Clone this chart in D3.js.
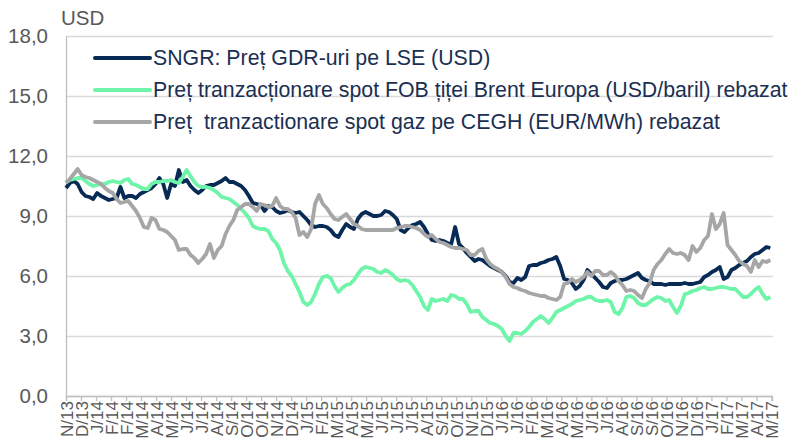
<!DOCTYPE html>
<html>
<head>
<meta charset="utf-8">
<script src="https://cdn.jsdelivr.net/npm/d3@7"></script>
<style>
  html, body { margin: 0; padding: 0; background: #fff; }
  svg { display: block; font-family: "Liberation Sans", Arial, sans-serif; }
</style>
</head>
<body>
<svg id="chart" width="791" height="445"></svg>
<script>
// Weekly observations, starting 12 Nov 2013 (one value per week)
const startDate = "2013-11-12";
const stepDays = 7;

// SNGR: GDR price on LSE (USD)
const sngr = [
  10.4,10.65,10.75,10.6,10.2,10.0,9.95,9.85,10.15,10.0,9.9,9.8,9.85,9.9,10.45,9.9,10.0,10.0,9.9,10.1,
  10.2,10.3,10.4,10.6,10.9,10.6,9.9,10.6,10.5,11.3,10.7,10.8,10.5,10.3,10.15,10.3,10.5,10.55,10.55,10.65,
  10.75,10.9,10.7,10.7,10.6,10.5,10.3,10.0,9.65,9.6,9.55,9.25,9.5,9.45,9.25,9.15,9.2,9.3,9.2,9.15,
  9.2,9.0,8.8,8.55,8.45,8.5,8.5,8.45,8.3,8.05,7.95,8.3,8.6,8.45,8.35,8.85,9.1,9.2,9.1,9.0,
  9.0,9.05,9.25,9.2,9.05,8.85,8.3,8.2,8.4,8.55,8.6,8.7,8.45,8.1,7.8,7.75,7.8,7.75,7.65,7.6,
  8.45,7.6,7.4,7.15,6.95,6.75,6.85,6.8,6.65,6.5,6.4,6.3,6.2,6.0,5.7,5.65,5.9,5.8,5.95,6.5,
  6.55,6.55,6.65,6.7,6.8,6.85,6.95,6.5,5.85,5.8,5.65,5.35,5.5,5.8,6.3,6.1,5.9,5.7,5.45,5.4,
  5.65,5.75,5.8,5.8,5.85,5.95,6.05,6.15,5.9,5.8,5.75,5.6,5.6,5.6,5.55,5.6,5.6,5.6,5.6,5.65,
  5.6,5.6,5.65,5.7,5.95,6.05,6.2,6.3,6.45,5.85,5.95,6.3,6.4,6.55,6.65,6.75,6.95,7.1,7.15,7.3,
  7.45,7.4
];

// Brent Europe FOB spot price (USD/barrel), rebased
const brent = [
  10.7,10.8,10.85,10.9,10.9,10.75,10.6,10.5,10.55,10.6,10.6,10.7,10.75,10.7,10.65,10.8,10.85,10.6,10.55,10.45,
  10.35,10.35,10.6,10.7,10.7,10.75,10.75,10.8,10.7,10.65,10.95,11.3,11.0,10.7,10.5,10.45,10.45,10.4,10.3,10.15,
  9.95,9.9,9.85,9.7,9.55,9.35,9.15,8.9,8.5,8.4,8.35,8.35,8.25,7.85,7.65,7.3,6.65,6.25,6.0,5.6,
  5.2,4.7,4.55,4.7,5.1,5.6,5.95,6.0,5.9,5.5,5.2,5.4,5.55,5.6,5.8,6.1,6.35,6.45,6.4,6.35,
  6.2,6.15,6.3,6.2,6.05,5.85,5.75,5.8,5.75,5.55,5.25,4.95,4.5,4.3,4.85,4.75,4.8,4.85,4.75,5.05,
  5.0,4.85,4.85,4.6,4.2,4.25,4.25,3.95,3.8,3.65,3.6,3.5,3.35,3.0,2.75,3.15,3.15,3.1,3.25,3.45,
  3.7,3.85,4.0,3.85,3.65,3.9,4.2,4.3,4.4,4.5,4.6,4.75,4.8,4.85,4.95,4.95,4.8,4.75,4.75,4.8,
  4.7,4.2,4.1,4.4,4.95,5.0,4.9,4.65,4.55,4.55,4.7,4.85,4.95,4.9,4.75,4.8,4.45,4.15,4.5,5.1,
  5.15,5.25,5.3,5.4,5.45,5.35,5.35,5.4,5.45,5.45,5.4,5.35,5.35,5.15,4.95,4.95,5.1,5.3,5.45,5.1,
  4.85,4.95
];

// CEGH spot gas price (EUR/MWh), rebased
const gas = [
  10.65,10.85,11.1,11.35,11.05,10.95,10.9,10.8,10.7,10.6,10.4,10.25,10.15,9.85,9.65,9.7,9.75,9.5,9.25,8.9,
  8.45,8.4,8.9,8.8,8.35,8.3,8.2,8.0,7.8,7.3,7.35,7.35,7.05,6.9,6.65,6.85,7.1,7.6,6.9,7.3,
  7.5,8.1,8.5,8.8,9.3,9.45,9.6,9.6,9.45,9.25,9.6,9.55,9.45,9.5,9.9,9.5,9.35,9.35,9.2,8.9,
  8.05,8.2,7.95,8.35,9.6,10.05,9.6,9.4,9.1,8.85,8.8,8.95,9.1,8.85,8.6,8.5,8.35,8.3,8.3,8.3,
  8.3,8.3,8.3,8.3,8.3,8.4,8.45,8.5,8.5,8.45,8.4,8.3,8.1,7.95,8.05,7.85,7.7,7.65,7.55,7.45,
  7.4,7.4,7.35,7.3,7.05,7.05,7.25,7.35,6.85,6.6,6.45,6.35,6.2,5.95,5.6,5.45,5.4,5.3,5.25,5.15,
  5.1,5.05,5.0,5.0,4.9,4.85,4.8,4.95,5.6,5.65,5.85,5.7,5.8,5.95,6.2,6.0,6.25,6.25,6.05,6.05,
  6.2,6.05,5.75,5.55,5.25,5.3,5.25,5.05,4.9,5.35,5.65,6.3,6.6,6.8,7.1,7.35,7.15,7.1,7.15,7.05,
  6.8,7.5,7.2,7.4,7.8,8.0,9.1,8.35,8.6,9.15,7.55,7.3,7.05,6.75,6.6,6.5,6.2,6.8,6.45,6.75,
  6.7,6.8
];

// Axis ticks: one every 27 days from the start date
const tickStepDays = 27;
const tickLabels = [
  "N/13","D/13","J/14","F/14","F/14","M/14","A/14","M/14","J/14","J/14","A/14","S/14",
  "O/14","O/14","N/14","D/14","J/15","F/15","M/15","A/15","M/15","J/15","J/15","J/15",
  "A/15","S/15","O/15","N/15","D/15","J/16","J/16","F/16","M/16","A/16","M/16","J/16",
  "J/16","A/16","S/16","S/16","O/16","N/16","D/16","J/17","F/17","M/17","A/17","M/17"
];
const yTicks = [0, 3, 6, 9, 12, 15, 18];

const seriesNames = [
  "SNGR: Preț GDR-uri pe LSE (USD)",
  "Preț tranzacționare spot FOB țiței Brent Europa (USD/baril) rebazat",
  "Preț  tranzactionare spot gaz pe CEGH (EUR/MWh) rebazat"
];
const seriesColors = ["#082b55", "#6ef5a9", "#a6a6a6"];

const svg = d3.select("#chart");
const plotLeft = 66, plotRight = 772, plotTop = 36, plotBottom = 396;

const t0 = d3.timeParse("%Y-%m-%d")(startDate);
const tEnd = d3.timeDay.offset(t0, 1270);
const x = d3.scaleTime().domain([t0, tEnd]).range([plotLeft, plotRight]);
const y = d3.scaleLinear().domain([0, 18]).range([plotBottom, plotTop]);

const dateAt = i => d3.timeDay.offset(t0, i * stepDays);
const tickDates = tickLabels.map((_, k) => d3.timeDay.offset(t0, k * tickStepDays));

// Horizontal gridlines
svg.append("g")
  .attr("transform", `translate(${plotLeft},0)`)
  .call(d3.axisLeft(y).tickValues(yTicks).tickSize(-(plotRight - plotLeft + 1)).tickFormat(""))
  .call(g => g.select(".domain").remove())
  .call(g => g.selectAll("line").attr("stroke", "#d9d9d9").attr("stroke-width", 1.3));

// Y axis labels
const fmt = d3.format(".1f");
svg.append("g")
  .attr("transform", `translate(${plotLeft},0)`)
  .call(d3.axisLeft(y).tickValues(yTicks).tickSize(0).tickPadding(18)
    .tickFormat(d => fmt(d).replace(".", ",")))
  .call(g => g.select(".domain").attr("stroke", "#bfbfbf").attr("stroke-width", 1.3))
  .call(g => g.selectAll("text").attr("fill", "#595959")
    .style("font-size", "20.5px").style("font-family", "'Liberation Sans', Arial, sans-serif"));

// X axis
svg.append("g")
  .attr("transform", `translate(0,${plotBottom})`)
  .call(d3.axisBottom(x).tickValues(tickDates).tickSize(5).tickFormat((d, i) => tickLabels[i]))
  .call(g => g.select(".domain").attr("stroke", "#bfbfbf").attr("stroke-width", 1.3))
  .call(g => g.selectAll("line").attr("stroke", "#bfbfbf").attr("stroke-width", 1.3))
  .call(g => g.selectAll("text")
    .attr("fill", "#595959")
    .attr("transform", "rotate(-90)")
    .attr("x", -5).attr("y", 0).attr("dy", "0.36em")
    .style("text-anchor", "end")
    .style("font-size", "17px")
    .style("font-family", "'Liberation Sans', Arial, sans-serif"));

// Unit label
svg.append("text")
  .attr("x", 61).attr("y", 25)
  .attr("fill", "#595959")
  .style("font-size", "20.5px")
  .text("USD");

// Lines
const line = d3.line()
  .x((d, i) => x(dateAt(i)))
  .y(d => y(d));

[sngr, brent, gas].forEach((vals, k) => {
  svg.append("path")
    .datum(vals)
    .attr("fill", "none")
    .attr("stroke", seriesColors[k])
    .attr("stroke-width", 3.8)
    .attr("stroke-linejoin", "round")
    .attr("d", line);
});

// Legend
const legendY = [58, 90, 122];
seriesNames.forEach((name, k) => {
  const g = svg.append("g").attr("transform", `translate(95,${legendY[k]})`);
  g.append("line")
    .attr("x1", 0).attr("x2", 55).attr("y1", 0).attr("y2", 0)
    .attr("stroke", seriesColors[k]).attr("stroke-width", 4).attr("stroke-linecap", "round");
  g.append("text")
    .attr("x", 58).attr("y", 0).attr("dy", "0.35em")
    .attr("fill", "#1b2f52")
    .style("font-size", "21.3px")
    .style("white-space", "pre")
    .text(name);
});
</script>
</body>
</html>
